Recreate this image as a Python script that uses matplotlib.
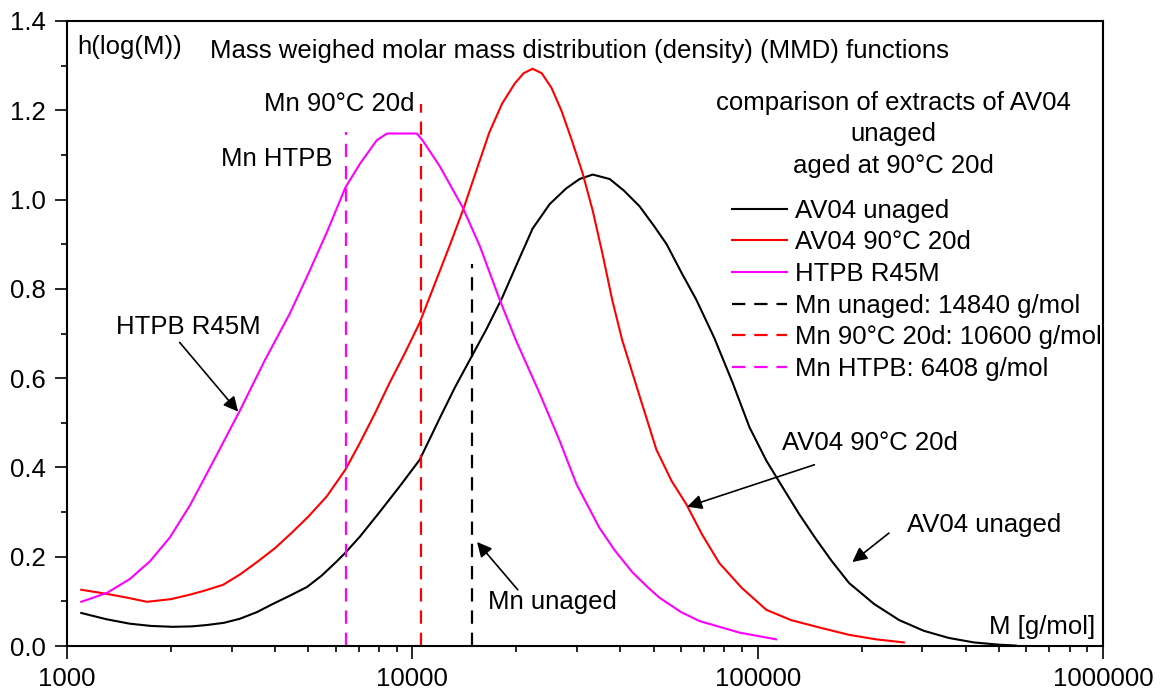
import matplotlib

matplotlib.use("Agg")
import matplotlib.pyplot as plt
from matplotlib.ticker import FixedLocator, LogLocator, MultipleLocator, FuncFormatter, NullFormatter

plt.rcParams["font.family"] = ["Liberation Sans", "DejaVu Sans"]

# mass weighted MMD curves, h(log M) vs molar mass M [g/mol]
m_unaged = [1100, 1300, 1520, 1750, 2025, 2300, 2540, 2850, 3165, 3550, 3940, 4400, 4950,
            5470, 6050, 6400, 7050, 8040, 9180, 10500, 12000, 13300, 14840, 16400, 18200,
            20200, 22300, 25000, 27900, 30500, 33300, 37300, 41000, 45500, 50200, 54500,
            60300, 66400, 74900, 84600, 94700, 106000, 117800, 132000, 148000, 164000,
            184000, 217500, 257000, 303000, 358000, 423000, 500000, 560000]
h_unaged = [0.074, 0.060, 0.050, 0.045, 0.043, 0.044, 0.047, 0.052, 0.061, 0.076, 0.094, 0.112, 0.132,
            0.158, 0.190, 0.209, 0.245, 0.300, 0.357, 0.417, 0.510, 0.580, 0.648, 0.710, 0.780,
            0.860, 0.935, 0.990, 1.025, 1.046, 1.056, 1.046, 1.020, 0.985, 0.940, 0.900,
            0.835, 0.776, 0.690, 0.590, 0.490, 0.415, 0.357, 0.295, 0.238, 0.190,
            0.141, 0.094, 0.058, 0.034, 0.018, 0.008, 0.003, 0.001]

m_aged = [1100, 1300, 1500, 1705, 2000, 2270, 2500, 2830, 3165, 3550, 4000, 4480, 5000, 5650, 6400,
          7050, 7780, 8600, 9500, 10500, 11600, 12800, 14000, 15250, 16700, 18200, 19800,
          21000, 22300, 23700, 25300, 27000, 28900, 31100, 33300, 35500, 37900, 40500, 45500,
          50900, 56300, 62100, 69000, 77400, 90000, 106000, 125000, 150000, 184000, 220000, 265000]
h_aged = [0.126, 0.117, 0.108, 0.099, 0.105, 0.115, 0.124, 0.137, 0.160, 0.188, 0.219, 0.254, 0.290, 0.335, 0.395,
          0.455, 0.520, 0.590, 0.655, 0.724, 0.810, 0.895, 0.975, 1.060, 1.150, 1.215, 1.260,
          1.283, 1.293, 1.283, 1.250, 1.200, 1.135, 1.060, 0.975, 0.880, 0.776, 0.686, 0.560,
          0.440, 0.370, 0.318, 0.250, 0.186, 0.130, 0.081, 0.058, 0.042, 0.025, 0.015, 0.008]

m_htpb = [1100, 1305, 1520, 1740, 1985, 2270, 2680, 3165, 3740, 4420, 5040, 5680, 6400,
          7050, 7890, 8450, 9400, 10300, 10700, 12000, 14000, 15700, 17900, 20000, 23400,
          26700, 29900, 34800, 38500, 43400, 48000, 52000, 60000, 67800, 88600, 113000]
h_htpb = [0.099, 0.119, 0.150, 0.190, 0.243, 0.315, 0.420, 0.527, 0.640, 0.745, 0.840, 0.930, 1.027,
          1.080, 1.133, 1.148, 1.148, 1.148, 1.133, 1.075, 0.982, 0.895, 0.776, 0.683, 0.565,
          0.460, 0.362, 0.265, 0.215, 0.165, 0.132, 0.108, 0.076, 0.056, 0.030, 0.015]

# number average molar masses and the heights of their marker lines
mn_values = [14840, 10600, 6408]
mn_heights = [0.855, 1.213, 1.152]
mn_colors = ["black", "#ff0000", "#ff00ff"]
mn_labels = ["Mn unaged: 14840 g/mol", "Mn 90°C 20d: 10600 g/mol", "Mn HTPB: 6408 g/mol"]

curve_labels = ["AV04 unaged", "AV04 90°C 20d", "HTPB R45M"]
x_ticks = [1000, 10000, 100000, 1000000]

FS = 18.5

fig = plt.figure(figsize=(11.63, 6.93), dpi=100)
ax = fig.add_axes([0.0576, 0.0678, 0.8908, 0.9019])

handles = []
for m, h, c, lab in zip([m_unaged, m_aged, m_htpb], [h_unaged, h_aged, h_htpb],
                        ["black", "#ff0000", "#ff00ff"], curve_labels):
    ln, = ax.plot(m, h, color=c, lw=1.5, label=lab)
    handles.append(ln)

for mv, hv, c, lab in zip(mn_values, mn_heights, mn_colors, mn_labels):
    ln, = ax.plot([mv, mv], [0, hv], color=c, lw=1.6, ls=(0, (6, 4)), label=lab)
    handles.append(ln)

ax.set_xscale("log")
ax.set_xlim(1000, 1000000)
ax.set_ylim(0, 1.4)

ax.xaxis.set_major_locator(FixedLocator(x_ticks))
ax.xaxis.set_major_formatter(FuncFormatter(lambda v, p: f"{int(round(v))}"))
ax.xaxis.set_minor_locator(LogLocator(base=10, subs=range(2, 10)))
ax.xaxis.set_minor_formatter(NullFormatter())
ax.yaxis.set_major_locator(MultipleLocator(0.2))
ax.yaxis.set_minor_locator(MultipleLocator(0.1))
ax.yaxis.set_major_formatter(FuncFormatter(lambda v, p: f"{v:.1f}"))

ax.tick_params(which="major", direction="out", length=9, width=1.2, labelsize=FS, pad=6)
ax.tick_params(which="minor", direction="out", length=4.5, width=1.2)
ax.tick_params(top=False, right=False)
for sp in ax.spines.values():
    sp.set_linewidth(1.5)

ax.text(0.01, 0.958, "h(log(M))", transform=ax.transAxes, fontsize=FS, va="center", ha="left")
ax.text(0.495, 0.952, "Mass weighed molar mass distribution (density) (MMD) functions",
        transform=ax.transAxes, fontsize=FS, va="center", ha="center")
ax.text(0.798, 0.819, "comparison of extracts of AV04\nunaged\naged at 90°C 20d",
        transform=ax.transAxes, fontsize=FS, va="center", ha="center", linespacing=1.39)
ax.text(0.993, 0.03, "M [g/mol]", transform=ax.transAxes, fontsize=FS, va="center", ha="right")

ax.text(10150, 1.213, "Mn 90°C 20d", fontsize=FS, va="center", ha="right")
ax.text(5870, 1.09, "Mn HTPB", fontsize=FS, va="center", ha="right")

arrow = dict(arrowstyle="-|>", color="black", lw=1.2, mutation_scale=22, shrinkA=0, shrinkB=0)
notes = [
    ("HTPB R45M", (2240, 0.715), (2120, 0.68), (3130, 0.525)),
    ("AV04 90°C 20d", (212000, 0.455), (146000, 0.406), (62500, 0.312)),
    ("AV04 unaged", (453000, 0.271), (240000, 0.253), (188000, 0.188)),
    ("Mn unaged", (25500, 0.099), (20200, 0.126), (15400, 0.233)),
]
for txt, pos, start, tip in notes:
    ax.text(pos[0], pos[1], txt, fontsize=FS, ha="center", va="center")
    ax.annotate("", xy=tip, xytext=start, arrowprops=arrow)

ax.legend(handles=handles, loc="upper left", bbox_to_anchor=(0.642, 0.716), frameon=False,
          fontsize=FS, borderpad=0, borderaxespad=0, handlelength=2.15, handletextpad=0.3,
          labelspacing=0.3)

fig.savefig("out.png", dpi=100)
